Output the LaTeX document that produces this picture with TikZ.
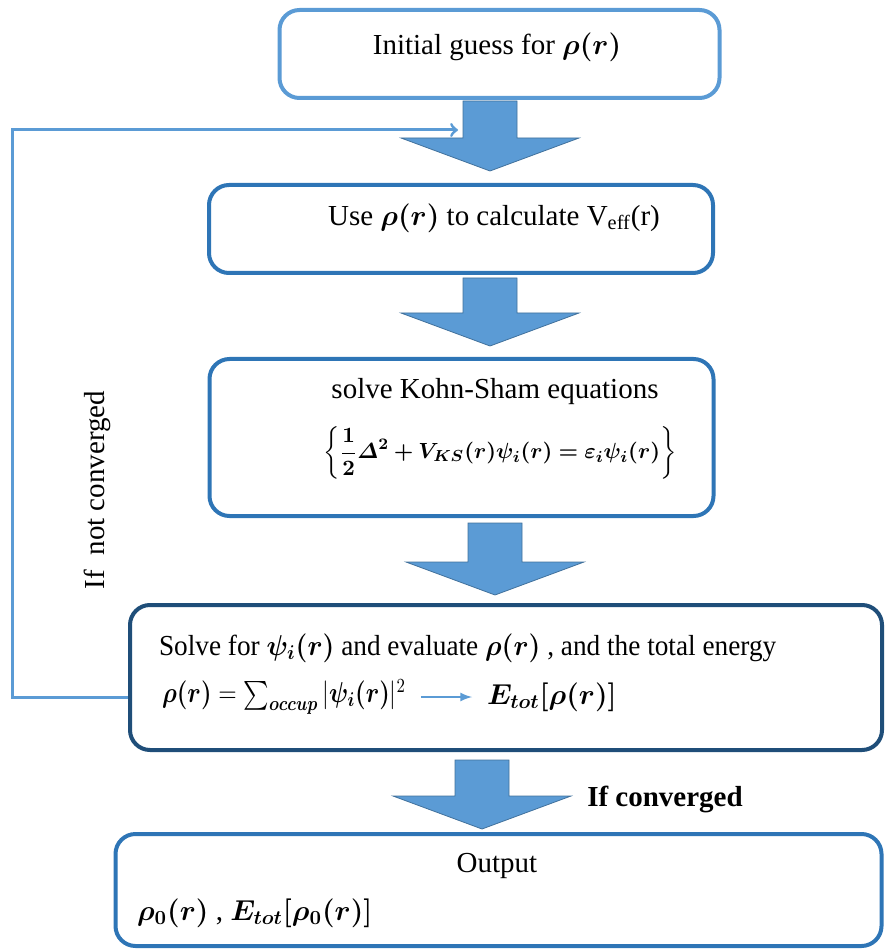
\documentclass[tikz,border=0pt]{standalone}
\usepackage{amsmath}
\usepackage{bm}
\usepackage{fontspec}
\setmainfont{Liberation Serif}
\newcommand{\boxLine}[0]{2pt}
\newcommand{\textSize}[0]{\fontsize{14.5}{17}\selectfont}
\newcommand{\eqSize}[0]{\fontsize{10.8}{13}\selectfont}
\newcommand{\bigArrow}[3]{\filldraw[big arrow] (#1-27,#2) -- (#1+27,#2) -- (#1+27,#3-33) -- (#1+89,#3-33) -- (#1,#3) -- (#1-89,#3-33) -- (#1-27,#3-33) -- cycle;}
\definecolor{lightblue}{HTML}{5B9BD5}
\definecolor{midblue}{HTML}{2E75B6}
\definecolor{darknavy}{HTML}{1F4E79}
\definecolor{arrowedge}{HTML}{41719C}

\begin{document}
\begin{tikzpicture}[x=0.5pt, y=-0.5pt, font=\textSize]
  \tikzset{flow box/.style={draw=midblue, line width=\boxLine, rounded corners=10pt, fill=white}}
  \tikzset{big arrow/.style={fill=lightblue, draw=arrowedge, line width=0.4pt}}
  \tikzset{loop line/.style={draw=lightblue, line width=1.5pt}}
  \useasboundingbox (0,0) rectangle (886,951);
  \node[flow box, draw=lightblue, minimum width=220pt, minimum height=44pt](box-1) at (499.5,54){};
  \node[flow box, minimum width=252pt, minimum height=44pt](box-2) at (461,229){};
  \node[flow box, minimum width=252pt, minimum height=78.5pt](box-3) at (461.5,437.5){};
  \node[flow box, draw=darknavy, minimum width=376pt, minimum height=72.5pt](box-4) at (506,677.5){};
  \node[flow box, minimum width=383pt, minimum height=56pt](box-5) at (498.5,890){};
  \node(guess) at (497,47){Initial guess for $\bm{\rho(r)}$};
  \node(use-rho) at (494,218){Use $\bm{\rho(r)}$ to calculate V\textsubscript{eff}(r)};
  \node(ks-title) at (495,392){solve Kohn-Sham equations};
  \node[font=\eqSize](ks-eq) at (500,453){$\left\{\displaystyle\bm{\frac{1}{2}\varDelta^2+V_{KS}(r)\psi_i(r)=\varepsilon_i\psi_i(r)}\right\}$};
  \node[anchor=west](solve-for) at (152,648){\scalebox{0.94}[1]{Solve for $\bm{\psi_i(r)}$ and evaluate $\bm{\rho(r)}$ , and the total energy}};
  \node[anchor=west](sum-eq) at (155,697){\scalebox{0.84}[1]{$\bm{\rho(r)}=\sum_{\bm{occup}}|\bm{\psi_i(r)}|^2$}};
  \node[anchor=west](tot-e) at (480,697){$\bm{E_{tot}[\rho(r)]}$};
  \node(output) at (497,866){Output};
  \node[anchor=west](result) at (130,913){$\bm{\rho_0(r)}$ , $\bm{E_{tot}[\rho_0(r)]}$};
  \node[rotate=90](not-conv) at (97,490){If~ not converged};
  \node[font=\textSize\bfseries](conv) at (665,799){If converged};
  \bigArrow{490}{101}{171}
  \bigArrow{490}{278}{346}
  \bigArrow{495}{523}{595}
  \bigArrow{482}{760}{829}
  \coordinate(loop-corner) at (12,130);
  \coordinate(loop-in) at (458,130);
  \draw[loop line, ->] (box-4.west |- sum-eq) -| (loop-corner) -- (loop-in);
  \draw[loop line, line width=1pt, -latex, shorten <=4pt, shorten >=4pt] (sum-eq) -- (tot-e);
\end{tikzpicture}
\end{document}
